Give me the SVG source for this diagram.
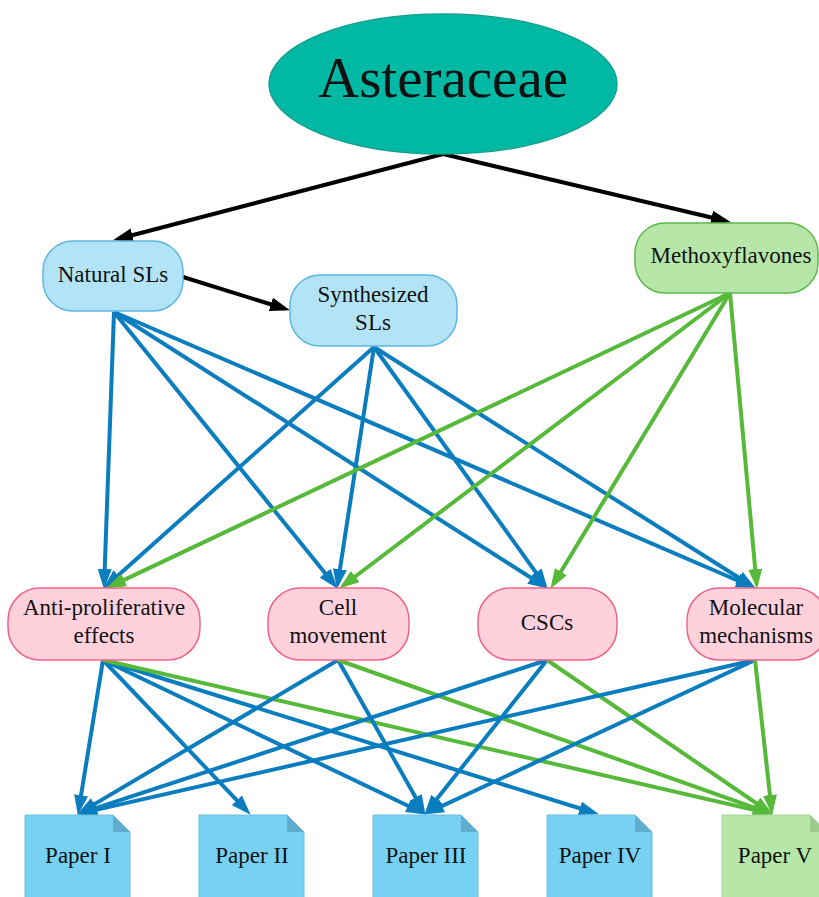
<svg xmlns="http://www.w3.org/2000/svg" width="819" height="897" viewBox="0 0 819 897">
<style>
text{font-family:"Liberation Serif","Times New Roman",serif;font-size:23px;fill:#111;text-anchor:middle}
.blue{fill:#b3e3f6;stroke:#5db6e6;stroke-width:1.5}
.green{fill:#b6e6a8;stroke:#5cb84a;stroke-width:1.5}
.pink{fill:#ffd1dd;stroke:#ee6586;stroke-width:1.5}
.paper{fill:#76d1f2;stroke:#6cc0e0;stroke-width:1}
.fold{fill:#5eacce}
.paperg{fill:#b6e6a8;stroke:#a6d898;stroke-width:1}
.foldg{fill:#9ccb8c}
.e{fill:none;stroke-width:4}
.k{stroke:#000;marker-end:url(#ak)}
.b{stroke:#0a7dbf;marker-end:url(#ab)}
.g{stroke:#56b93a;marker-end:url(#ag)}
</style>
<defs>
<marker id="ak" markerUnits="userSpaceOnUse" markerWidth="20" markerHeight="14" refX="14" refY="7" orient="auto"><path d="M0,0 L20,7 L0,14 z" fill="#000"/></marker>
<marker id="ab" markerUnits="userSpaceOnUse" markerWidth="20" markerHeight="14" refX="14" refY="7" orient="auto"><path d="M0,0 L20,7 L0,14 z" fill="#0a7dbf"/></marker>
<marker id="ag" markerUnits="userSpaceOnUse" markerWidth="20" markerHeight="14" refX="14" refY="7" orient="auto"><path d="M0,0 L20,7 L0,14 z" fill="#56b93a"/></marker>
</defs>
<g id="connectors">
<line class="e k" x1="443" y1="154" x2="118.8" y2="238.7"/>
<line class="e k" x1="443" y1="154" x2="725.1" y2="220.8"/>
<line class="e k" x1="183" y1="277" x2="284.2" y2="308.5"/>
<line class="e b" x1="114" y1="312" x2="104.2" y2="583"/>
<line class="e b" x1="114" y1="312" x2="333.9" y2="584.1"/>
<line class="e b" x1="114" y1="312" x2="542.8" y2="585.3"/>
<line class="e b" x1="114" y1="312" x2="750.4" y2="586"/>
<line class="e b" x1="374" y1="347" x2="107.7" y2="584.7"/>
<line class="e b" x1="374" y1="347" x2="337.8" y2="583.1"/>
<line class="e b" x1="374" y1="347" x2="544.1" y2="583.9"/>
<line class="e b" x1="374" y1="347" x2="750.8" y2="585.3"/>
<line class="e g" x1="730" y1="293" x2="111.5" y2="585.9"/>
<line class="e g" x1="730" y1="293" x2="344" y2="585"/>
<line class="e g" x1="730" y1="293" x2="553.6" y2="583.7"/>
<line class="e g" x1="730" y1="293" x2="756.5" y2="583"/>
<line class="e b" x1="103" y1="660" x2="78.8" y2="809.1"/>
<line class="e b" x1="103" y1="660" x2="246.5" y2="810.4"/>
<line class="e b" x1="103" y1="660" x2="420.5" y2="811.8"/>
<line class="e b" x1="103" y1="660" x2="593.2" y2="812.5"/>
<line class="e g" x1="103" y1="660" x2="767.1" y2="812.9"/>
<line class="e b" x1="338" y1="660" x2="82.3" y2="811.4"/>
<line class="e b" x1="338" y1="660" x2="422.5" y2="809.6"/>
<line class="e g" x1="338" y1="660" x2="767.3" y2="812.3"/>
<line class="e b" x1="547" y1="660" x2="82.8" y2="812.4"/>
<line class="e b" x1="547" y1="660" x2="428.1" y2="810.1"/>
<line class="e g" x1="547" y1="660" x2="767.9" y2="811.2"/>
<line class="e b" x1="755" y1="660" x2="82.9" y2="812.9"/>
<line class="e b" x1="755" y1="660" x2="429.5" y2="811.9"/>
<line class="e g" x1="755" y1="660" x2="771.5" y2="809"/>
</g>
<g id="asteraceae">
<ellipse cx="443" cy="84" rx="174" ry="70" fill="#00b9a5" stroke="#18a08f" stroke-width="1.5"/>
<text x="443" y="97" style="font-size:57px">Asteraceae</text>
</g>
<g id="natural-sls">
<rect class="blue" x="43" y="241" width="140" height="70" rx="30"/>
<text x="113" y="282">Natural SLs</text>
</g>
<g id="synthesized-sls">
<rect class="blue" x="290" y="275" width="167" height="71" rx="30"/>
<text x="373" y="302">Synthesized</text>
<text x="373" y="330">SLs</text>
</g>
<g id="methoxyflavones">
<rect class="green" x="635" y="223" width="183" height="70" rx="30"/>
<text x="731" y="263">Methoxyflavones</text>
</g>
<g id="anti-proliferative">
<rect class="pink" x="8" y="588" width="192" height="72" rx="32"/>
<text x="104" y="615">Anti-proliferative</text>
<text x="104" y="643">effects</text>
</g>
<g id="cell-movement">
<rect class="pink" x="268" y="588" width="141" height="72" rx="32"/>
<text x="338" y="615">Cell</text>
<text x="338" y="643">movement</text>
</g>
<g id="cscs">
<rect class="pink" x="478" y="588" width="139" height="72" rx="32"/>
<text x="547" y="630">CSCs</text>
</g>
<g id="molecular-mechanisms">
<rect class="pink" x="687" y="588" width="140" height="72" rx="32"/>
<text x="756" y="615">Molecular</text>
<text x="756" y="643">mechanisms</text>
</g>
<g id="paper-i">
<path class="paper" d="M25,815 H113 L130,832 V905 H25 Z"/>
<path class="fold" d="M113,815 V832 H130 Z"/>
<text x="78" y="863">Paper I</text>
</g>
<g id="paper-ii">
<path class="paper" d="M199,815 H287 L304,832 V905 H199 Z"/>
<path class="fold" d="M287,815 V832 H304 Z"/>
<text x="252" y="863">Paper II</text>
</g>
<g id="paper-iii">
<path class="paper" d="M373,815 H461 L478,832 V905 H373 Z"/>
<path class="fold" d="M461,815 V832 H478 Z"/>
<text x="426" y="863">Paper III</text>
</g>
<g id="paper-iv">
<path class="paper" d="M547,815 H635 L652,832 V905 H547 Z"/>
<path class="fold" d="M635,815 V832 H652 Z"/>
<text x="600" y="863">Paper IV</text>
</g>
<g id="paper-v">
<path class="paperg" d="M722,815 H810 L827,832 V905 H722 Z"/>
<path class="foldg" d="M810,815 V832 H827 Z"/>
<text x="775" y="863">Paper V</text>
</g>
</svg>
